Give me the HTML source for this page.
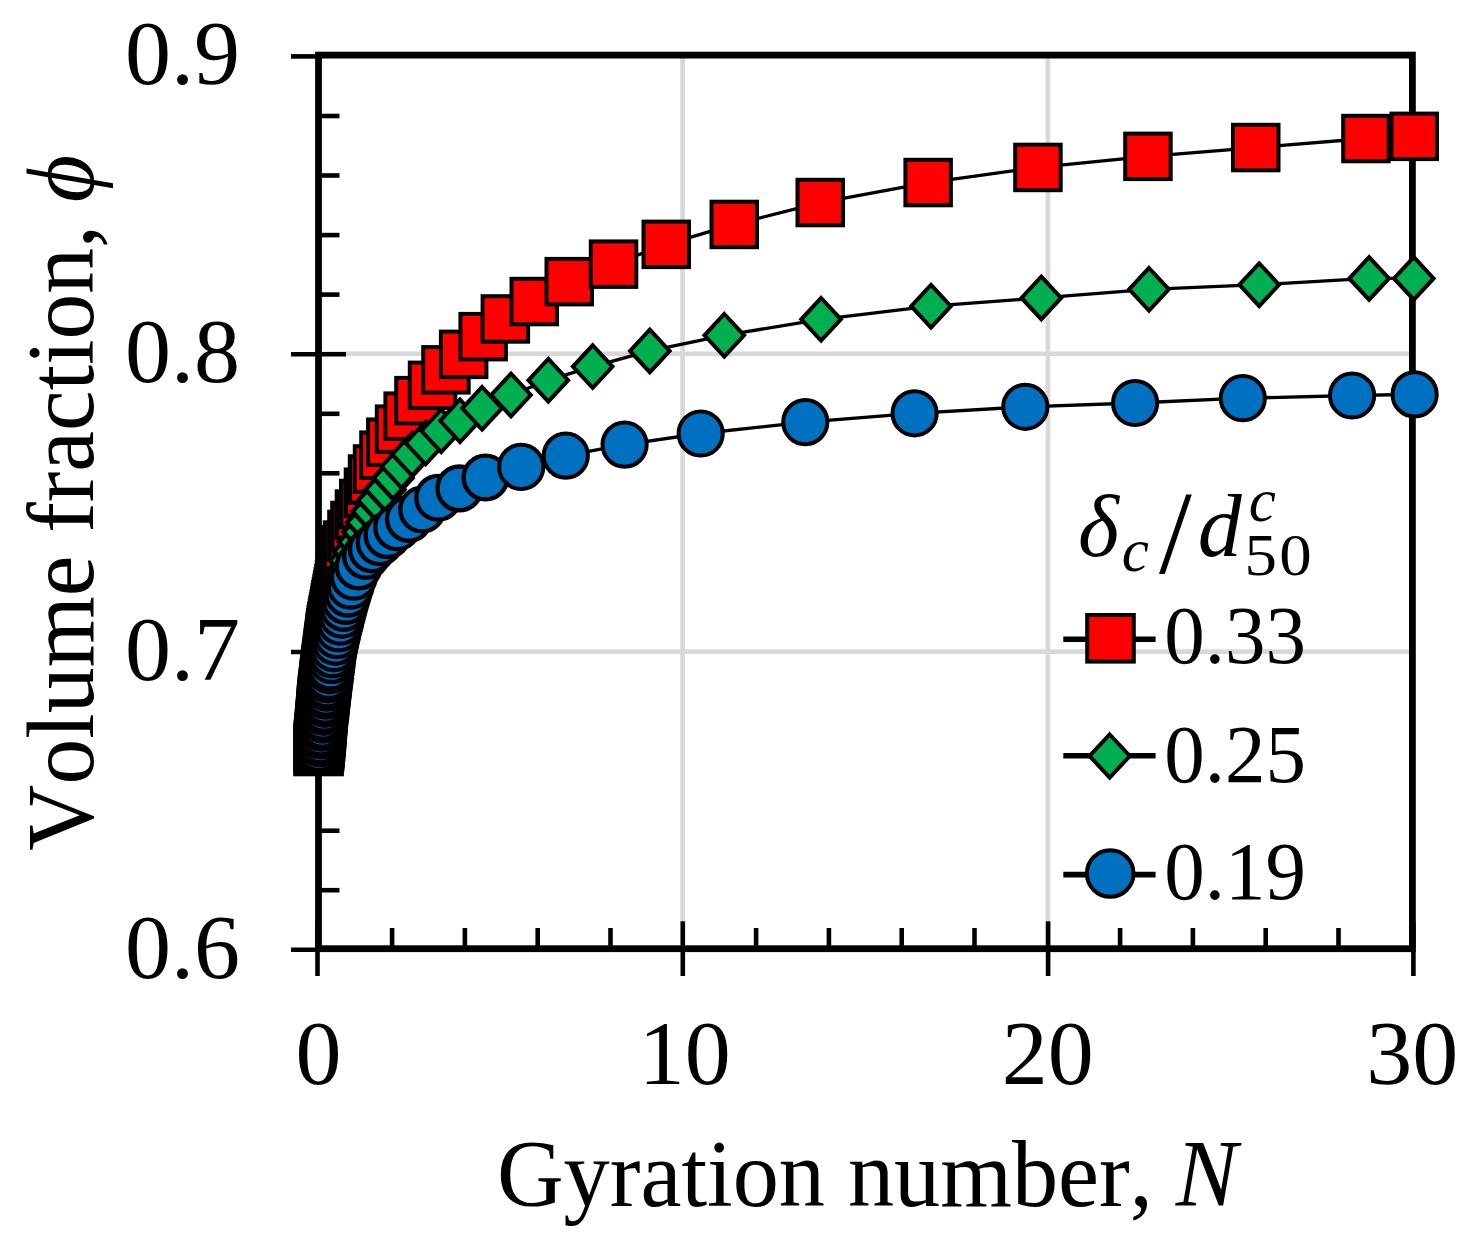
<!DOCTYPE html>
<html lang="en"><head><meta charset="utf-8"><title>Volume fraction vs gyration number</title>
<style>html,body{margin:0;padding:0;background:#fff}svg{display:block}</style></head>
<body>
<svg width="1473" height="1236" viewBox="0 0 1473 1236">
<rect width="1473" height="1236" fill="#fff"/>
<g stroke="#d8d8d8" stroke-width="4.6" fill="none">
<line x1="682.6" y1="55.1" x2="682.6" y2="948.7"/>
<line x1="1047.9" y1="55.1" x2="1047.9" y2="948.7"/>
<line x1="318.5" y1="651.6" x2="1412.4" y2="651.6"/>
<line x1="318.5" y1="353.8" x2="1412.4" y2="353.8"/>
</g>
<g stroke="#000" fill="none" stroke-width="4.6">
<line x1="291" y1="949.8" x2="346" y2="949.8"/>
<line x1="318.5" y1="890.2" x2="339.5" y2="890.2"/>
<line x1="318.5" y1="830.7" x2="339.5" y2="830.7"/>
<line x1="318.5" y1="771.1" x2="339.5" y2="771.1"/>
<line x1="318.5" y1="711.6" x2="339.5" y2="711.6"/>
<line x1="291" y1="652.0" x2="346" y2="652.0"/>
<line x1="318.5" y1="592.4" x2="339.5" y2="592.4"/>
<line x1="318.5" y1="532.9" x2="339.5" y2="532.9"/>
<line x1="318.5" y1="473.3" x2="339.5" y2="473.3"/>
<line x1="318.5" y1="413.8" x2="339.5" y2="413.8"/>
<line x1="291" y1="354.2" x2="346" y2="354.2"/>
<line x1="318.5" y1="294.6" x2="339.5" y2="294.6"/>
<line x1="318.5" y1="235.1" x2="339.5" y2="235.1"/>
<line x1="318.5" y1="175.5" x2="339.5" y2="175.5"/>
<line x1="318.5" y1="116.0" x2="339.5" y2="116.0"/>
<line x1="291" y1="56.4" x2="318.5" y2="56.4"/>
<line x1="317.5" y1="921.3" x2="317.5" y2="976"/>
<line x1="392.1" y1="928" x2="392.1" y2="948.7"/>
<line x1="464.9" y1="928" x2="464.9" y2="948.7"/>
<line x1="537.7" y1="928" x2="537.7" y2="948.7"/>
<line x1="610.5" y1="928" x2="610.5" y2="948.7"/>
<line x1="682.8" y1="921.3" x2="682.8" y2="976"/>
<line x1="756.1" y1="928" x2="756.1" y2="948.7"/>
<line x1="828.9" y1="928" x2="828.9" y2="948.7"/>
<line x1="901.7" y1="928" x2="901.7" y2="948.7"/>
<line x1="974.5" y1="928" x2="974.5" y2="948.7"/>
<line x1="1048.1" y1="921.3" x2="1048.1" y2="976"/>
<line x1="1120.1" y1="928" x2="1120.1" y2="948.7"/>
<line x1="1192.9" y1="928" x2="1192.9" y2="948.7"/>
<line x1="1265.7" y1="928" x2="1265.7" y2="948.7"/>
<line x1="1338.5" y1="928" x2="1338.5" y2="948.7"/>
<line x1="1413.4" y1="921.3" x2="1413.4" y2="976"/>
</g>
<rect x="318.5" y="55.1" width="1093.9" height="893.6" fill="none" stroke="#000" stroke-width="6.8"/>
<polyline points="318.5,750.9 318.8,747.9 318.9,746.2 319.1,744.4 319.3,742.7 319.4,741.0 319.6,739.2 319.7,737.5 319.9,735.7 320.1,734.0 320.2,732.2 320.4,730.4 320.6,728.7 320.7,726.9 320.9,725.1 321.0,723.4 321.2,721.6 321.3,719.8 321.5,718.0 321.6,716.3 321.7,714.5 321.9,712.7 322.0,710.9 322.2,709.1 322.3,707.3 322.5,705.5 322.6,703.7 322.8,701.9 323.1,700.1 323.3,698.2 323.5,696.4 323.7,694.6 323.9,692.8 324.1,691.0 324.3,689.1 324.6,687.3 324.8,685.5 325.0,683.6 325.2,681.8 325.4,679.9 325.6,678.0 325.9,676.1 326.1,674.1 326.4,672.0 326.7,669.9 326.9,667.7 327.2,665.5 327.5,663.2 327.8,660.8 328.1,658.4 328.5,655.8 328.8,653.2 329.1,650.5 329.5,647.8 329.8,645.0 330.2,642.0 330.6,639.1 331.0,636.1 331.4,633.1 331.9,630.1 332.4,627.0 333.0,624.0 333.6,620.9 334.2,617.9 334.7,614.8 335.3,611.7 335.9,608.6 336.5,605.4 337.1,602.3 337.7,599.1 338.3,595.9 338.9,592.6 339.5,589.2 340.1,585.6 340.8,581.9 341.5,577.9 342.3,573.7 343.1,569.2 343.9,564.5 344.8,559.8 345.6,555.1 346.8,550.3 348.1,545.6 352.5,535.0 355.5,526.0 360.0,514.6 364.4,504.0 369.0,492.7 373.1,479.6 377.5,469.0 384.0,455.2 390.8,442.1 399.5,429.1 408.1,416.1 419.0,400.6 432.5,385.3 446.0,369.8 463.7,354.3 483.2,336.6 505.4,319.0 534.2,301.5 569.2,281.7 613.5,264.2 666.3,244.3 734.2,224.4 820.2,202.6 928.1,182.6 1038.0,167.4 1148.0,156.3 1255.8,147.6 1366.0,138.5 1414.2,136.3" fill="none" stroke="#000" stroke-width="3.3" stroke-linejoin="round"/>
<g fill="#ff0000" stroke="#000" stroke-width="4.4">
<rect x="295.4" y="727.8" width="46.3" height="46.3"/>
<rect x="295.6" y="724.8" width="46.3" height="46.3"/>
<rect x="295.8" y="723.0" width="46.3" height="46.3"/>
<rect x="295.9" y="721.3" width="46.3" height="46.3"/>
<rect x="296.1" y="719.5" width="46.3" height="46.3"/>
<rect x="296.3" y="717.8" width="46.3" height="46.3"/>
<rect x="296.4" y="716.1" width="46.3" height="46.3"/>
<rect x="296.6" y="714.3" width="46.3" height="46.3"/>
<rect x="296.8" y="712.6" width="46.3" height="46.3"/>
<rect x="296.9" y="710.8" width="46.3" height="46.3"/>
<rect x="297.1" y="709.0" width="46.3" height="46.3"/>
<rect x="297.2" y="707.3" width="46.3" height="46.3"/>
<rect x="297.4" y="705.5" width="46.3" height="46.3"/>
<rect x="297.6" y="703.8" width="46.3" height="46.3"/>
<rect x="297.7" y="702.0" width="46.3" height="46.3"/>
<rect x="297.9" y="700.2" width="46.3" height="46.3"/>
<rect x="298.0" y="698.4" width="46.3" height="46.3"/>
<rect x="298.2" y="696.7" width="46.3" height="46.3"/>
<rect x="298.3" y="694.9" width="46.3" height="46.3"/>
<rect x="298.4" y="693.1" width="46.3" height="46.3"/>
<rect x="298.6" y="691.3" width="46.3" height="46.3"/>
<rect x="298.7" y="689.5" width="46.3" height="46.3"/>
<rect x="298.9" y="687.7" width="46.3" height="46.3"/>
<rect x="299.0" y="685.9" width="46.3" height="46.3"/>
<rect x="299.2" y="684.1" width="46.3" height="46.3"/>
<rect x="299.3" y="682.3" width="46.3" height="46.3"/>
<rect x="299.5" y="680.5" width="46.3" height="46.3"/>
<rect x="299.7" y="678.7" width="46.3" height="46.3"/>
<rect x="299.9" y="676.9" width="46.3" height="46.3"/>
<rect x="300.1" y="675.1" width="46.3" height="46.3"/>
<rect x="300.3" y="673.3" width="46.3" height="46.3"/>
<rect x="300.6" y="671.5" width="46.3" height="46.3"/>
<rect x="300.8" y="669.6" width="46.3" height="46.3"/>
<rect x="301.0" y="667.8" width="46.3" height="46.3"/>
<rect x="301.2" y="666.0" width="46.3" height="46.3"/>
<rect x="301.4" y="664.1" width="46.3" height="46.3"/>
<rect x="301.6" y="662.3" width="46.3" height="46.3"/>
<rect x="301.8" y="660.5" width="46.3" height="46.3"/>
<rect x="302.1" y="658.6" width="46.3" height="46.3"/>
<rect x="302.3" y="656.8" width="46.3" height="46.3"/>
<rect x="302.5" y="654.9" width="46.3" height="46.3"/>
<rect x="302.7" y="652.9" width="46.3" height="46.3"/>
<rect x="303.0" y="650.9" width="46.3" height="46.3"/>
<rect x="303.2" y="648.9" width="46.3" height="46.3"/>
<rect x="303.5" y="646.8" width="46.3" height="46.3"/>
<rect x="303.8" y="644.6" width="46.3" height="46.3"/>
<rect x="304.1" y="642.3" width="46.3" height="46.3"/>
<rect x="304.4" y="640.0" width="46.3" height="46.3"/>
<rect x="304.7" y="637.7" width="46.3" height="46.3"/>
<rect x="305.0" y="635.2" width="46.3" height="46.3"/>
<rect x="305.3" y="632.7" width="46.3" height="46.3"/>
<rect x="305.6" y="630.1" width="46.3" height="46.3"/>
<rect x="306.0" y="627.4" width="46.3" height="46.3"/>
<rect x="306.3" y="624.6" width="46.3" height="46.3"/>
<rect x="306.7" y="621.8" width="46.3" height="46.3"/>
<rect x="307.1" y="618.9" width="46.3" height="46.3"/>
<rect x="307.4" y="615.9" width="46.3" height="46.3"/>
<rect x="307.8" y="612.9" width="46.3" height="46.3"/>
<rect x="308.2" y="609.9" width="46.3" height="46.3"/>
<rect x="308.7" y="606.9" width="46.3" height="46.3"/>
<rect x="309.3" y="603.9" width="46.3" height="46.3"/>
<rect x="309.9" y="600.8" width="46.3" height="46.3"/>
<rect x="310.4" y="597.8" width="46.3" height="46.3"/>
<rect x="311.0" y="594.7" width="46.3" height="46.3"/>
<rect x="311.6" y="591.6" width="46.3" height="46.3"/>
<rect x="312.2" y="588.5" width="46.3" height="46.3"/>
<rect x="312.7" y="585.4" width="46.3" height="46.3"/>
<rect x="313.3" y="582.3" width="46.3" height="46.3"/>
<rect x="313.9" y="579.2" width="46.3" height="46.3"/>
<rect x="314.5" y="576.0" width="46.3" height="46.3"/>
<rect x="315.1" y="572.7" width="46.3" height="46.3"/>
<rect x="315.7" y="569.4" width="46.3" height="46.3"/>
<rect x="316.4" y="566.0" width="46.3" height="46.3"/>
<rect x="317.0" y="562.4" width="46.3" height="46.3"/>
<rect x="317.7" y="558.7" width="46.3" height="46.3"/>
<rect x="318.4" y="554.7" width="46.3" height="46.3"/>
<rect x="319.1" y="550.5" width="46.3" height="46.3"/>
<rect x="319.9" y="546.1" width="46.3" height="46.3"/>
<rect x="320.8" y="541.4" width="46.3" height="46.3"/>
<rect x="321.6" y="536.6" width="46.3" height="46.3"/>
<rect x="322.5" y="531.9" width="46.3" height="46.3"/>
<rect x="323.7" y="527.2" width="46.3" height="46.3"/>
<rect x="325.0" y="522.5" width="46.3" height="46.3"/>
<rect x="329.4" y="511.9" width="46.3" height="46.3"/>
<rect x="332.4" y="502.9" width="46.3" height="46.3"/>
<rect x="336.9" y="491.5" width="46.3" height="46.3"/>
<rect x="341.2" y="480.9" width="46.3" height="46.3"/>
<rect x="345.9" y="469.6" width="46.3" height="46.3"/>
<rect x="350.0" y="456.5" width="46.3" height="46.3"/>
</g>
<g fill="#ff0000" stroke="#000" stroke-width="4.0">
<rect x="354.8" y="446.2" width="45.5" height="45.5"/>
<rect x="361.2" y="432.4" width="45.5" height="45.5"/>
<rect x="368.1" y="419.4" width="45.5" height="45.5"/>
<rect x="376.8" y="406.4" width="45.5" height="45.5"/>
<rect x="385.4" y="393.4" width="45.5" height="45.5"/>
<rect x="396.2" y="377.9" width="45.5" height="45.5"/>
<rect x="409.8" y="362.6" width="45.5" height="45.5"/>
<rect x="423.2" y="347.1" width="45.5" height="45.5"/>
<rect x="440.9" y="331.6" width="45.5" height="45.5"/>
<rect x="460.4" y="313.9" width="45.5" height="45.5"/>
<rect x="482.6" y="296.2" width="45.5" height="45.5"/>
<rect x="511.5" y="278.8" width="45.5" height="45.5"/>
<rect x="546.5" y="258.9" width="45.5" height="45.5"/>
<rect x="590.8" y="241.4" width="45.5" height="45.5"/>
<rect x="643.5" y="221.6" width="45.5" height="45.5"/>
<rect x="711.5" y="201.7" width="45.5" height="45.5"/>
<rect x="797.5" y="179.8" width="45.5" height="45.5"/>
<rect x="905.4" y="159.8" width="45.5" height="45.5"/>
<rect x="1015.2" y="144.7" width="45.5" height="45.5"/>
<rect x="1125.2" y="133.6" width="45.5" height="45.5"/>
<rect x="1233.0" y="124.8" width="45.5" height="45.5"/>
<rect x="1343.2" y="115.8" width="45.5" height="45.5"/>
<rect x="1391.5" y="113.6" width="45.5" height="45.5"/>
</g>
<polyline points="318.5,750.9 318.7,749.0 319.2,744.0 319.4,741.3 319.9,736.3 320.2,733.5 320.7,728.5 321.0,725.6 321.7,720.6 322.0,717.7 322.7,712.6 323.0,709.8 323.7,704.6 324.1,701.7 324.8,696.6 325.2,693.6 325.9,688.5 326.3,685.5 327.0,680.3 327.4,677.1 328.3,671.4 328.9,667.7 329.8,661.3 330.5,656.9 331.4,650.9 332.3,644.6 333.3,638.0 334.3,631.3 335.3,624.6 336.4,617.7 337.6,610.8 338.9,603.9 340.2,596.7 341.8,589.1 344.0,580.7 346.5,571.0 349.3,560.5 353.5,551.5 358.3,542.0 363.0,532.0 366.5,522.5 372.0,511.5 377.5,500.5 385.0,489.5 393.0,478.0 401.5,466.5 412.0,454.3 425.5,443.0 441.2,430.8 460.0,420.8 482.1,408.3 511.0,395.0 548.3,380.2 592.7,366.6 649.8,350.9 724.3,335.3 821.1,319.3 931.0,306.2 1041.3,297.9 1149.0,289.3 1259.2,284.7 1369.1,278.4 1413.8,278.4" fill="none" stroke="#000" stroke-width="3.3" stroke-linejoin="round"/>
<g fill="#00b050" stroke="#000" stroke-width="4.4" stroke-linejoin="miter">
<polygon points="318.5,729.9 338.0,750.9 318.5,771.9 299.0,750.9"/>
<polygon points="318.7,728.0 338.2,749.0 318.7,770.0 299.2,749.0"/>
<polygon points="319.2,723.0 338.7,744.0 319.2,765.0 299.6,744.0"/>
<polygon points="319.4,720.2 338.9,741.3 319.4,762.3 299.9,741.3"/>
<polygon points="319.9,715.3 339.4,736.3 319.9,757.3 300.4,736.3"/>
<polygon points="320.2,712.5 339.7,733.5 320.2,754.5 300.6,733.5"/>
<polygon points="320.7,707.4 340.2,728.5 320.7,749.5 301.2,728.5"/>
<polygon points="321.0,704.6 340.6,725.6 321.0,746.6 301.5,725.6"/>
<polygon points="321.7,699.6 341.2,720.6 321.7,741.6 302.2,720.6"/>
<polygon points="322.0,696.7 341.6,717.7 322.0,738.7 302.5,717.7"/>
<polygon points="322.7,691.6 342.2,712.6 322.7,733.7 303.2,712.6"/>
<polygon points="323.0,688.7 342.6,709.8 323.0,730.8 303.5,709.8"/>
<polygon points="323.7,683.6 343.2,704.6 323.7,725.7 304.2,704.6"/>
<polygon points="324.1,680.7 343.6,701.7 324.1,722.7 304.6,701.7"/>
<polygon points="324.8,675.6 344.3,696.6 324.8,717.6 305.3,696.6"/>
<polygon points="325.2,672.6 344.7,693.6 325.2,714.7 305.7,693.6"/>
<polygon points="325.9,667.5 345.4,688.5 325.9,709.5 306.4,688.5"/>
<polygon points="326.3,664.5 345.8,685.5 326.3,706.5 306.7,685.5"/>
<polygon points="327.0,659.3 346.5,680.3 327.0,701.3 307.4,680.3"/>
<polygon points="327.4,656.1 346.9,677.1 327.4,698.1 307.9,677.1"/>
<polygon points="328.3,650.4 347.8,671.4 328.3,692.4 308.8,671.4"/>
<polygon points="328.9,646.6 348.4,667.7 328.9,688.7 309.3,667.7"/>
<polygon points="329.8,640.3 349.3,661.3 329.8,682.3 310.3,661.3"/>
<polygon points="330.5,635.9 350.0,656.9 330.5,677.9 311.0,656.9"/>
<polygon points="331.4,629.9 350.9,650.9 331.4,672.0 311.8,650.9"/>
<polygon points="332.3,623.6 351.8,644.6 332.3,665.6 312.8,644.6"/>
<polygon points="333.3,617.0 352.8,638.0 333.3,659.0 313.8,638.0"/>
<polygon points="334.3,610.3 353.8,631.3 334.3,652.3 314.8,631.3"/>
<polygon points="335.3,603.5 354.8,624.6 335.3,645.6 315.8,624.6"/>
<polygon points="336.4,596.7 355.9,617.7 336.4,638.8 316.9,617.7"/>
<polygon points="337.6,589.8 357.2,610.8 337.6,631.9 318.1,610.8"/>
<polygon points="338.9,582.9 358.4,603.9 338.9,624.9 319.4,603.9"/>
<polygon points="340.2,575.7 359.7,596.7 340.2,617.7 320.6,596.7"/>
<polygon points="341.8,568.1 361.3,589.1 341.8,610.1 322.2,589.1"/>
<polygon points="344.0,559.7 363.5,580.7 344.0,601.7 324.5,580.7"/>
<polygon points="346.5,550.0 366.1,571.0 346.5,592.0 327.0,571.0"/>
<polygon points="349.3,539.5 368.8,560.5 349.3,581.5 329.8,560.5"/>
<polygon points="353.5,530.5 373.0,551.5 353.5,572.5 334.0,551.5"/>
<polygon points="358.3,521.0 377.8,542.0 358.3,563.0 338.8,542.0"/>
<polygon points="363.0,511.0 382.5,532.0 363.0,553.0 343.5,532.0"/>
<polygon points="366.5,501.5 386.0,522.5 366.5,543.5 347.0,522.5"/>
<polygon points="372.0,490.5 391.5,511.5 372.0,532.5 352.5,511.5"/>
<polygon points="377.5,479.5 397.0,500.5 377.5,521.5 358.0,500.5"/>
<polygon points="385.0,468.5 404.5,489.5 385.0,510.5 365.5,489.5"/>
<polygon points="393.0,457.0 412.5,478.0 393.0,499.0 373.5,478.0"/>
</g>
<g fill="#00b050" stroke="#000" stroke-width="4.0" stroke-linejoin="miter">
<polygon points="401.5,445.2 421.3,466.5 401.5,487.8 381.7,466.5"/>
<polygon points="412.0,433.0 431.8,454.3 412.0,475.6 392.2,454.3"/>
<polygon points="425.5,421.7 445.3,443.0 425.5,464.3 405.7,443.0"/>
<polygon points="441.2,409.5 461.0,430.8 441.2,452.1 421.4,430.8"/>
<polygon points="460.0,399.5 479.8,420.8 460.0,442.1 440.2,420.8"/>
<polygon points="482.1,387.0 501.9,408.3 482.1,429.6 462.3,408.3"/>
<polygon points="511.0,373.7 530.8,395.0 511.0,416.3 491.2,395.0"/>
<polygon points="548.3,358.9 568.1,380.2 548.3,401.5 528.5,380.2"/>
<polygon points="592.7,345.3 612.5,366.6 592.7,387.9 572.9,366.6"/>
<polygon points="649.8,329.6 669.6,350.9 649.8,372.2 630.0,350.9"/>
<polygon points="724.3,314.0 744.1,335.3 724.3,356.6 704.5,335.3"/>
<polygon points="821.1,298.0 840.9,319.3 821.1,340.6 801.3,319.3"/>
<polygon points="931.0,284.9 950.8,306.2 931.0,327.5 911.2,306.2"/>
<polygon points="1041.3,276.6 1061.1,297.9 1041.3,319.2 1021.5,297.9"/>
<polygon points="1149.0,268.0 1168.8,289.3 1149.0,310.6 1129.2,289.3"/>
<polygon points="1259.2,263.4 1279.0,284.7 1259.2,306.0 1239.4,284.7"/>
<polygon points="1369.1,257.1 1388.9,278.4 1369.1,299.7 1349.3,278.4"/>
<polygon points="1413.8,257.1 1433.6,278.4 1413.8,299.7 1394.0,278.4"/>
</g>
<polyline points="318.5,750.9 318.9,748.1 319.6,743.2 320.0,740.4 320.6,735.4 321.0,732.6 321.7,727.6 322.0,724.8 322.7,719.7 323.1,716.9 323.7,711.8 324.1,708.9 324.8,703.8 325.2,700.8 325.9,695.7 326.3,692.8 327.0,687.6 327.4,684.6 328.1,679.4 328.7,676.1 329.7,670.3 330.4,666.5 331.6,660.1 332.6,654.4 333.9,648.3 335.4,641.8 337.0,635.2 338.6,628.5 340.3,621.7 342.0,614.8 343.8,607.9 345.8,600.9 348.1,593.6 350.6,585.7 353.8,576.7 358.6,566.4 366.1,555.9 371.9,549.3 379.7,542.2 387.5,535.1 397.2,527.3 408.9,518.9 422.2,509.5 438.2,497.8 459.4,488.4 485.5,477.5 521.2,466.9 565.8,455.6 624.6,444.6 700.7,433.5 805.3,422.1 914.6,413.3 1025.3,406.8 1135.1,403.0 1242.8,398.2 1352.1,395.5 1414.6,394.4" fill="none" stroke="#000" stroke-width="3.3" stroke-linejoin="round"/>
<g fill="#0070c0" stroke="#000" stroke-width="4.4">
<circle cx="318.5" cy="750.9" r="21.90"/>
<circle cx="318.9" cy="748.1" r="21.90"/>
<circle cx="319.6" cy="743.2" r="21.90"/>
<circle cx="320.0" cy="740.4" r="21.90"/>
<circle cx="320.6" cy="735.4" r="21.90"/>
<circle cx="321.0" cy="732.6" r="21.90"/>
<circle cx="321.7" cy="727.6" r="21.90"/>
<circle cx="322.0" cy="724.8" r="21.90"/>
<circle cx="322.7" cy="719.7" r="21.90"/>
<circle cx="323.1" cy="716.9" r="21.90"/>
<circle cx="323.7" cy="711.8" r="21.90"/>
<circle cx="324.1" cy="708.9" r="21.90"/>
<circle cx="324.8" cy="703.8" r="21.90"/>
<circle cx="325.2" cy="700.8" r="21.90"/>
<circle cx="325.9" cy="695.7" r="21.90"/>
<circle cx="326.3" cy="692.8" r="21.90"/>
<circle cx="327.0" cy="687.6" r="21.90"/>
<circle cx="327.4" cy="684.6" r="21.90"/>
<circle cx="328.1" cy="679.4" r="21.90"/>
<circle cx="328.7" cy="676.1" r="21.90"/>
<circle cx="329.7" cy="670.3" r="21.90"/>
<circle cx="330.4" cy="666.5" r="21.90"/>
<circle cx="331.6" cy="660.1" r="21.90"/>
<circle cx="332.6" cy="654.4" r="21.90"/>
<circle cx="333.9" cy="648.3" r="21.90"/>
<circle cx="335.4" cy="641.8" r="21.90"/>
<circle cx="337.0" cy="635.2" r="21.90"/>
<circle cx="338.6" cy="628.5" r="21.90"/>
<circle cx="340.3" cy="621.7" r="21.90"/>
<circle cx="342.0" cy="614.8" r="21.90"/>
<circle cx="343.8" cy="607.9" r="21.90"/>
<circle cx="345.8" cy="600.9" r="21.90"/>
<circle cx="348.1" cy="593.6" r="21.90"/>
<circle cx="350.6" cy="585.7" r="21.90"/>
<circle cx="353.8" cy="576.7" r="21.90"/>
<circle cx="358.6" cy="566.4" r="21.90"/>
<circle cx="366.1" cy="555.9" r="21.90"/>
<circle cx="371.9" cy="549.3" r="21.90"/>
<circle cx="379.7" cy="542.2" r="21.90"/>
<circle cx="387.5" cy="535.1" r="21.90"/>
<circle cx="397.2" cy="527.3" r="21.90"/>
<circle cx="408.9" cy="518.9" r="21.90"/>
<circle cx="422.2" cy="509.5" r="21.90"/>
<circle cx="438.2" cy="497.8" r="21.90"/>
<circle cx="459.4" cy="488.4" r="21.90"/>
<circle cx="485.5" cy="477.5" r="21.90"/>
</g>
<g fill="#0070c0" stroke="#000" stroke-width="4.0">
<circle cx="521.2" cy="466.9" r="22.10"/>
<circle cx="565.8" cy="455.6" r="22.10"/>
<circle cx="624.6" cy="444.6" r="22.10"/>
<circle cx="700.7" cy="433.5" r="22.10"/>
<circle cx="805.3" cy="422.1" r="22.10"/>
<circle cx="914.6" cy="413.3" r="22.10"/>
<circle cx="1025.3" cy="406.8" r="22.10"/>
<circle cx="1135.1" cy="403.0" r="22.10"/>
<circle cx="1242.8" cy="398.2" r="22.10"/>
<circle cx="1352.1" cy="395.5" r="22.10"/>
<circle cx="1414.6" cy="394.4" r="22.10"/>
</g>
<g stroke="#000" stroke-width="5.6">
<line x1="1063.3" y1="639.3" x2="1155.6" y2="639.3"/>
<line x1="1063.3" y1="755.8" x2="1155.6" y2="755.8"/>
<line x1="1063.3" y1="874.6" x2="1155.6" y2="874.6"/>
</g>
<rect x="1087.2" y="615.0" width="46.6" height="46.6" fill="#ff0000" stroke="#000" stroke-width="4.0"/>
<polygon points="1109.7,734.5 1129.8,756 1109.7,777.5 1089.6000000000001,756" fill="#00b050" stroke="#000" stroke-width="4.0"/>
<circle cx="1110.2" cy="873.5" r="23.3" fill="#0070c0" stroke="#000" stroke-width="4.0"/>
<g font-family="'Liberation Serif', serif" fill="#000" style="font-kerning:none">
<text x="239.9" y="977.6" font-size="92" text-anchor="end">0.6</text>
<text x="239.9" y="679.8" font-size="92" text-anchor="end">0.7</text>
<text x="239.9" y="382.0" font-size="92" text-anchor="end">0.8</text>
<text x="239.9" y="84.2" font-size="92" text-anchor="end">0.9</text>
<text x="318.4" y="1083.7" font-size="92" text-anchor="middle">0</text>
<text x="684.8" y="1083.7" font-size="92" text-anchor="middle">10</text>
<text x="1047.7" y="1083.7" font-size="92" text-anchor="middle">20</text>
<text x="1412.2" y="1083.7" font-size="92" text-anchor="middle">30</text>
<text transform="translate(867.2,1206.2) scale(0.9762,1)" font-size="94.5" text-anchor="middle">Gyration number, <tspan font-style="italic">N</tspan></text>
<text transform="translate(93.4,502.7) rotate(-90) scale(0.9694,1)" font-size="94.5" text-anchor="middle">Volume fraction, <tspan font-style="italic">ϕ</tspan></text>
<text transform="translate(1164.2,663.4) scale(0.9759,1)" font-size="83">0.33</text>
<text transform="translate(1164.2,781.7) scale(0.9759,1)" font-size="83">0.25</text>
<text transform="translate(1164.2,899.0) scale(0.9759,1)" font-size="83">0.19</text>
<text x="1078.0" y="556.2" font-size="88" font-style="italic">δ</text>
<text x="1121.7" y="570.6" font-size="61" font-style="italic">c</text>
<text x="1159.0" y="572.7" font-size="118">/</text>
<text x="1197.8" y="556.2" font-size="88" font-style="italic">d</text>
<text x="1248.7" y="520.6" font-size="61" font-style="italic">c</text>
<text transform="translate(1244.4,574.6) scale(1.1,1)" font-size="59" letter-spacing="2.2">50</text>
</g>
</svg>
</body></html>
